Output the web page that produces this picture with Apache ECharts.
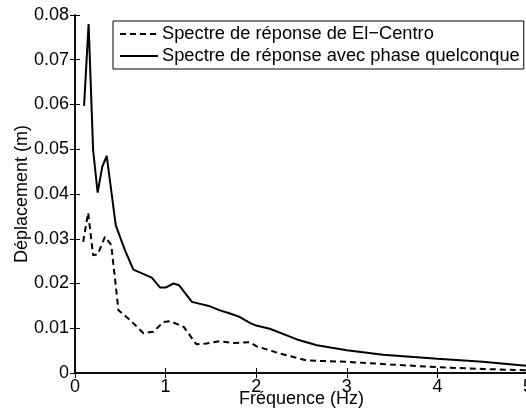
<!DOCTYPE html>
<html>
<head>
<meta charset="utf-8">
<script src="https://cdn.jsdelivr.net/npm/echarts@6/dist/echarts.min.js"></script>
<style>
html,body{margin:0;padding:0;background:#fff;}
#c{width:526px;height:414px;}
</style>
</head>
<body>
<div id="c"></div>
<script>
var xTicks = [0, 1, 2, 3, 4, 5];
var yTicks = [0, 0.01, 0.02, 0.03, 0.04, 0.05, 0.06, 0.07, 0.08];

var elCentroName = 'Spectre de réponse de El\u2212Centro';
var elCentroX = [0.09, 0.145, 0.2, 0.25, 0.33, 0.4, 0.48, 0.61, 0.755, 0.865, 0.976, 1.05, 1.2, 1.34, 1.45, 1.6, 1.75, 1.93, 2.0, 2.27, 2.56, 3.0, 3.48, 4.0, 4.5, 5.0];
var elCentroY = [0.0293, 0.0358, 0.0263, 0.0265, 0.0304, 0.0286, 0.0140, 0.0118, 0.0089, 0.0092, 0.0114, 0.0116, 0.0103, 0.0064, 0.0066, 0.0071, 0.0067, 0.0069, 0.0060, 0.0043, 0.0028, 0.0025, 0.0019, 0.0013, 0.0009, 0.0006];

var phaseName = 'Spectre de réponse avec phase quelconque';
var phaseX = [0.1, 0.15, 0.2, 0.25, 0.3, 0.35, 0.45, 0.55, 0.644, 0.847, 0.94, 1.0, 1.086, 1.15, 1.29, 1.49, 1.6, 1.71, 1.82, 1.93, 2.0, 2.15, 2.45, 2.67, 3.0, 3.4, 4.0, 4.5, 5.0];
var phaseY = [0.0597, 0.0780, 0.0498, 0.0403, 0.0460, 0.0485, 0.0330, 0.0275, 0.0231, 0.0213, 0.0191, 0.0191, 0.0200, 0.0196, 0.0159, 0.0149, 0.0140, 0.0133, 0.0125, 0.0112, 0.0106, 0.0099, 0.0075, 0.0062, 0.0051, 0.0041, 0.0032, 0.0025, 0.0016];

function pairs(xs, ys) { return xs.map(function (x, i) { return [x, ys[i]]; }); }

var FONT = 'Liberation Sans';
var chart = echarts.init(document.getElementById('c'), null, {renderer: 'canvas'});

var axisLine = {show: true, lineStyle: {color: '#000', width: 1.5}};
var tick = {show: true, inside: true, length: 5, lineStyle: {color: '#000', width: 1}};

chart.setOption({
  animation: false,
  backgroundColor: '#fff',
  grid: {left: 75, top: 15, right: -2, bottom: 41, containLabel: false, outerBoundsMode: 'none'},
  xAxis: [{
    type: 'value', min: xTicks[0], max: xTicks[xTicks.length - 1], interval: 1,
    position: 'bottom',
    name: 'Fréquence (Hz)', nameLocation: 'middle', nameGap: 17, nameMoveOverlap: false,
    nameTextStyle: {fontFamily: FONT, fontSize: 18, color: '#000'},
    axisLine: axisLine, axisTick: tick,
    axisLabel: {fontFamily: FONT, fontSize: 18, color: '#000', margin: 5},
    splitLine: {show: false}
  }, {
    type: 'value', min: xTicks[0], max: xTicks[xTicks.length - 1], interval: 1,
    position: 'top',
    axisLine: axisLine, axisTick: tick, axisLabel: {show: false}, splitLine: {show: false}
  }],
  yAxis: [{
    type: 'value', min: yTicks[0], max: yTicks[yTicks.length - 1], interval: 0.01,
    position: 'left',
    name: 'Déplacement (m)', nameLocation: 'middle', nameGap: 44, nameMoveOverlap: false,
    nameTextStyle: {fontFamily: FONT, fontSize: 18, color: '#000'},
    axisLine: axisLine, axisTick: tick,
    axisLabel: {fontFamily: FONT, fontSize: 18, color: '#000', margin: 6,
      formatter: function (v) { return v === 0 ? '0' : v.toFixed(2); }},
    splitLine: {show: false}
  }, {
    type: 'value', min: yTicks[0], max: yTicks[yTicks.length - 1], interval: 0.01,
    position: 'right',
    axisLine: axisLine, axisTick: tick, axisLabel: {show: false}, splitLine: {show: false}
  }],
  legend: {
    left: 113, top: 21, orient: 'vertical',
    backgroundColor: '#fff', borderColor: '#000', borderWidth: 1,
    padding: [4, 4, 4, 6], itemGap: 4, itemWidth: 38, itemHeight: 14,
    itemStyle: {opacity: 0, borderWidth: 0},
    textStyle: {fontFamily: FONT, fontSize: 18.3, color: '#000', padding: [0, 0, 0, -1]},
    data: [elCentroName, phaseName]
  },
  series: [{
    name: elCentroName, type: 'line', xAxisIndex: 0, yAxisIndex: 0,
    data: pairs(elCentroX, elCentroY), symbol: 'none', smooth: false,
    lineStyle: {color: '#000', width: 2, type: [6, 4]}, itemStyle: {color: '#000'}
  }, {
    name: phaseName, type: 'line', xAxisIndex: 0, yAxisIndex: 0,
    data: pairs(phaseX, phaseY), symbol: 'none', smooth: false,
    lineStyle: {color: '#000', width: 2, type: 'solid'}, itemStyle: {color: '#000'}
  }]
});
</script>
</body>
</html>
